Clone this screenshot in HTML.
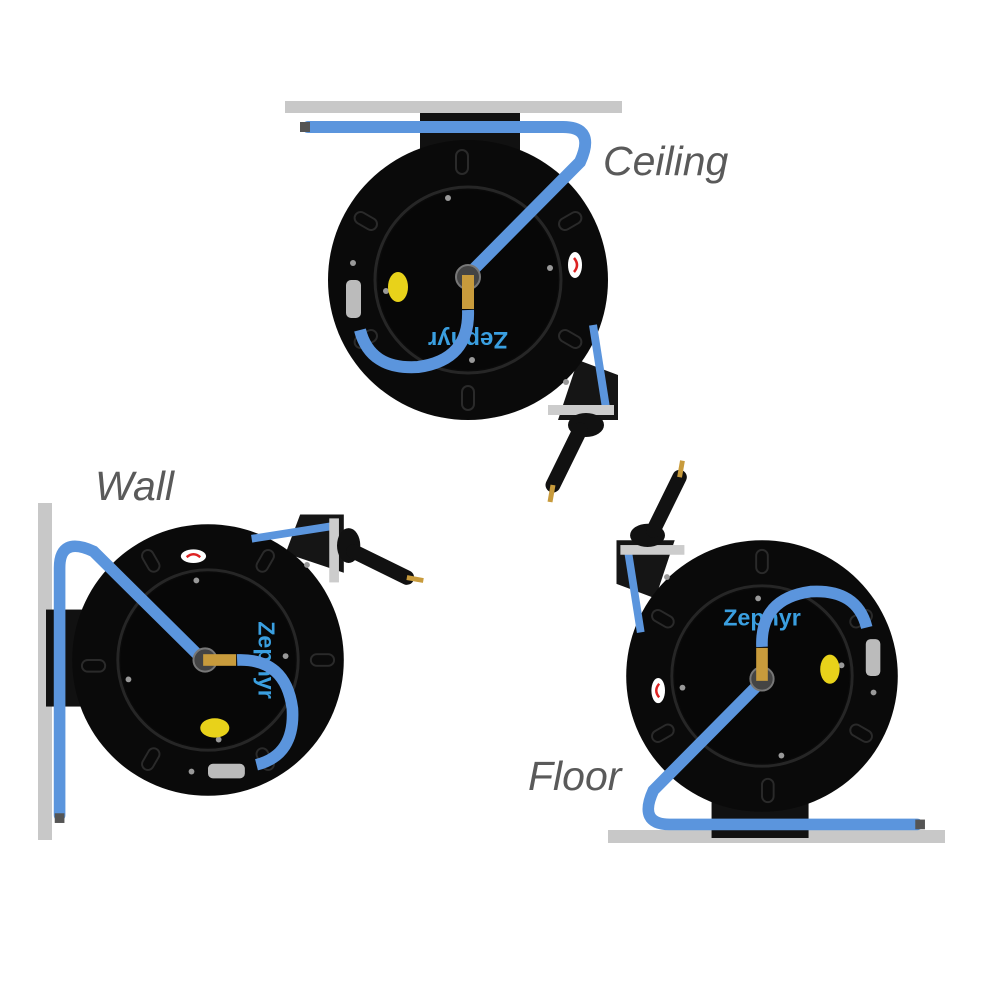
<!DOCTYPE html>
<html><head><meta charset="utf-8"><style>
html,body{margin:0;padding:0;background:#fff;}
svg{display:block}
text{font-family:"Liberation Sans",sans-serif;font-style:italic;fill:#5a5a5a;font-size:41px}
</style></head><body>
<svg width="1000" height="1000" viewBox="0 0 1000 1000" xmlns="http://www.w3.org/2000/svg">
<defs>
<g id="reel">
  <rect x="-48" y="-167" width="100" height="40" fill="#111"/>
  <path d="M110 80 L150 95 L150 140 L90 140 Z" fill="#151515"/>
  <circle r="140" fill="#0a0a0a"/>
  <circle r="93" fill="none" stroke="#262626" stroke-width="3"/>
  <circle r="90" fill="#070707"/>
  <g fill="none" stroke="#2a2a2a" stroke-width="2">
    <rect x="-12" y="-130" width="12" height="24" rx="6"/>
    <rect x="-12" y="106" width="12" height="24" rx="6" transform="translate(6 0)"/>
    <rect x="-6" y="-130" width="12" height="24" rx="6" transform="rotate(60)"/>
    <rect x="-6" y="-130" width="12" height="24" rx="6" transform="rotate(120)"/>
    <rect x="-6" y="-130" width="12" height="24" rx="6" transform="rotate(-60)"/>
    <rect x="-6" y="-130" width="12" height="24" rx="6" transform="rotate(-120)"/>
  </g>
  <g fill="#999">
    <circle cx="-20" cy="-82" r="3"/><circle cx="82" cy="-12" r="3"/>
    <circle cx="4" cy="80" r="3"/><circle cx="-82" cy="11" r="3"/>
    <circle cx="-115" cy="-17" r="3"/><circle cx="98" cy="102" r="3"/>
  </g>
  <ellipse cx="107" cy="-15" rx="7" ry="13" fill="#fff"/>
  <path d="M106 -22 q6 7 0 14" stroke="#d22" stroke-width="2.5" fill="none"/>
  <ellipse cx="-70" cy="7" rx="10" ry="15" fill="#e8d21a"/>
  <text x="0" y="0" transform="translate(0 52) rotate(180)" text-anchor="middle" style="font-size:24px;fill:#3a9fe0;font-style:normal;font-weight:bold">Zephyr</text>
  <path d="M-160 -153 L95 -153 Q128 -153 112 -118 L0 -5" stroke="#5b95dd" stroke-width="12" fill="none" stroke-linecap="round"/>
  <circle cx="0" cy="-3" r="12" fill="#444" stroke="#777" stroke-width="2"/>
  <rect x="-6" y="-5" width="12" height="34" fill="#c89b3c"/>
  <path d="M0 30 Q2 80 -50 87 Q-98 90 -108 50" stroke="#5b95dd" stroke-width="12" fill="none"/>
  <rect x="-122" y="0" width="15" height="38" rx="5" fill="#bbb"/>
  <path d="M125 45 L138 128" stroke="#5b95dd" stroke-width="8" fill="none"/>
  <rect x="80" y="125" width="66" height="10" fill="#ccc"/>
  <ellipse cx="118" cy="145" rx="18" ry="12" fill="#111"/>
  <path d="M112 150 L85 205" stroke="#111" stroke-width="15" stroke-linecap="round"/>
  <path d="M85 205 L82 222" stroke="#c89b3c" stroke-width="5"/>
  <rect x="-168" y="-158" width="10" height="10" fill="#555"/>
</g>
</defs>
<rect x="285" y="101" width="337" height="12" fill="#c8c8c8"/>
<use href="#reel" transform="translate(468 280)"/>
<rect x="38" y="503" width="14" height="337" fill="#c8c8c8"/>
<use href="#reel" transform="translate(208 660) scale(0.97) rotate(-90)"/>
<rect x="608" y="830" width="337" height="13" fill="#c8c8c8"/>
<use href="#reel" transform="translate(762 676) scale(0.97) rotate(180)"/>
<text x="603" y="175">Ceiling</text>
<text x="95" y="500">Wall</text>
<text x="528" y="790">Floor</text>
</svg>
</body></html>
